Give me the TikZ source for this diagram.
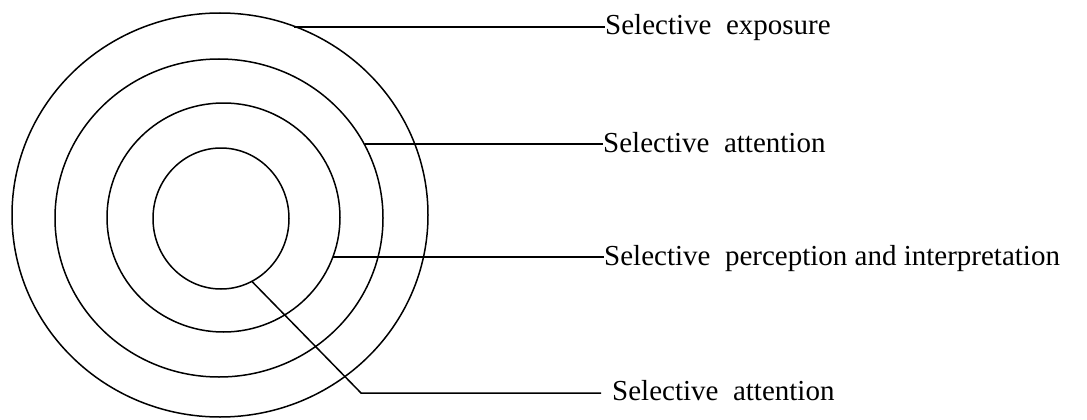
\documentclass[tikz,border=0pt]{standalone}
\usepackage{fontspec}
\setmainfont{Liberation Serif}
\begin{document}
\begin{tikzpicture}[x=1pt,y=-1pt,
  ring/.style={line width=1.5pt},
  lead/.style={line width=1.5pt},
  lbl/.style={font=\fontsize{29}{34}\selectfont, inner sep=0pt, anchor=base west}]
\useasboundingbox (0,0) rectangle (1087,420);
% rings
\draw[ring] (220,215) ellipse [x radius=208, y radius=202];
\draw[ring] (219,218) ellipse [x radius=164, y radius=159];
\draw[ring] (223.5,217.5) ellipse [x radius=116.5, y radius=114.5];
\draw[ring] (221,218.5) ellipse [x radius=68, y radius=70.5];
% points on rings
\coordinate (p1) at (293.5,27);
\coordinate (p2) at (364.5,144);
\coordinate (p3) at (333,257);
\coordinate (p4) at (251.5,281);
\coordinate (k4) at (361,393);
% labels
\node[lbl] (t1) at (605,35) {Selective\ \ exposure};
\node[lbl] (t2) at (603,152) {Selective\ \ attention};
\node[lbl] (t3) at (604,265) {Selective\ \ perception and interpretation};
\node[lbl] (t4) at (612,400) {Selective\ \ attention};
% leaders
\draw[lead] (p1) -- (p1 -| t1.west);
\draw[lead] (p2) -- (p2 -| t2.west);
\draw[lead] (p3) -- (p3 -| t3.west);
\draw[lead] (p4) -- (k4) -- ([xshift=-11pt]k4 -| t4.west);
\end{tikzpicture}
\end{document}
